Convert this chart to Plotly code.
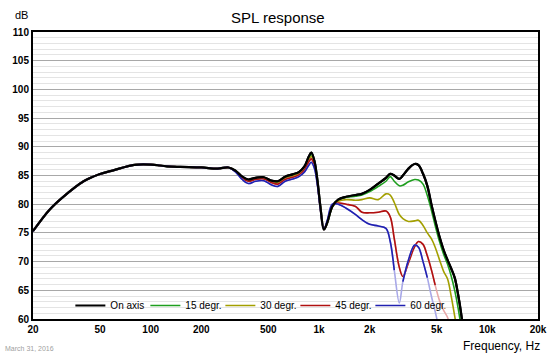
import math
import plotly.graph_objects as go

freq = [20, 25, 30, 40, 50, 60, 80, 100, 125, 150, 200, 250, 290, 320, 350, 380, 420,
        470, 520, 570, 630, 700, 760, 820, 870, 900, 940, 980, 1020, 1070, 1120, 1200,
        1300, 1450, 1650, 1800, 2000, 2250, 2500, 2650, 2800, 3000, 3150, 3400, 3700,
        3900, 4150, 4400, 4650, 4900, 5200, 5500, 5800, 6100, 6400, 6700, 7000, 7300]

low = [75.3, 79.0, 81.2, 84.0, 85.25, 85.9, 86.85, 86.9, 86.6, 86.5, 86.4, 86.2, 86.4]

on_axis = low + [85.8, 84.8, 84.3, 84.6, 84.7, 84.1, 84.0, 84.8, 85.2, 85.6, 86.6, 88.3,
                 89.0, 87.5, 84.0, 79.5, 75.6, 76.8, 79.6, 80.8, 81.3, 81.6, 81.8, 82.5,
                 83.6, 84.6, 85.3, 85.0, 84.4, 85.0, 86.2, 87.0, 86.8, 85.3, 83.2, 80.0,
                 77.2, 74.3, 72.0, 70.3, 68.8, 67.2, 64.3, 60.8, 56.0]
deg15 = low + [85.8, 84.7, 84.2, 84.5, 84.6, 84.0, 83.9, 84.7, 85.1, 85.5, 86.4, 88.0,
               88.7, 87.3, 83.9, 79.4, 75.6, 76.8, 79.6, 80.8, 81.2, 81.4, 81.6, 82.2,
               83.1, 84.0, 84.8, 84.0, 83.2, 83.3, 83.9, 84.3, 84.2, 83.5, 81.5, 79.0,
               76.3, 73.5, 71.3, 69.6, 67.5, 65.0, 62.0, 58.5, 55.0]
deg30 = low + [85.7, 84.6, 84.1, 84.4, 84.5, 83.9, 83.7, 84.5, 84.9, 85.3, 86.2, 87.7,
               88.3, 87.0, 83.7, 79.3, 75.6, 76.8, 79.6, 80.5, 80.8, 80.7, 80.8, 81.1,
               80.8, 81.8, 81.6, 80.3, 78.2, 77.5, 77.0, 77.1, 77.2, 76.3, 75.0, 74.0,
               72.5, 70.3, 68.3, 67.0, 64.0, 60.5, 57.0, 54.0, 52.0]
deg45 = low + [85.7, 84.5, 84.0, 84.3, 84.4, 83.8, 83.5, 84.3, 84.7, 85.1, 86.0, 87.4,
               87.9, 86.7, 83.5, 79.2, 75.6, 77.0, 79.8, 80.2, 80.0, 79.6, 78.6, 78.5,
               78.6, 78.8, 77.8, 74.0, 69.0, 67.4, 69.8, 72.6, 73.5, 73.0, 71.0, 68.6,
               65.9, 63.2, 61.5, 60.3, 58.0, 55.0, 52.0, 50.0, 50.0]
deg60 = low + [85.6, 84.3, 83.6, 84.0, 84.1, 83.4, 83.1, 84.0, 84.4, 84.8, 85.6, 86.8,
               87.3, 86.2, 83.2, 79.1, 75.6, 77.2, 80.0, 80.0, 79.3, 78.2, 77.3, 76.5,
               76.2, 75.8, 73.5, 68.5, 62.8, 66.5, 70.3, 72.9, 72.5, 70.0, 67.2, 64.0,
               61.3, 58.0, 55.0, 52.0, 50.0, 50.0, 50.0, 50.0, 50.0]

names = ["On axis", "15 degr.", "30 degr.", "45 degr.", "60 degr."]
colors = ["#000000", "#1e9e1e", "#a39f00", "#b01010", "#2020b0"]
faint = [None, None, None, "#e8a8a8", "#a8a8e8"]
widths = [2.2, 1.6, 1.6, 1.6, 1.6]
series = [on_axis, deg15, deg30, deg45, deg60]
x_ticks = [20, 50, 100, 200, 500, 1000, 2000, 5000, 10000, 20000]
x_labels = ["20", "50", "100", "200", "500", "1k", "2k", "5k", "10k", "20k"]
y_ticks = list(range(60, 111, 5))
FAINT_LEVEL = 65.5

fig = go.Figure()
for name, col, fc, w, ys in zip(names, colors, faint, widths, series):
    if fc is not None:
        fig.add_trace(go.Scatter(x=freq, y=ys, mode="lines", showlegend=False,
                                 hoverinfo="skip",
                                 line=dict(color=fc, width=w, shape="spline")))
        ys_dark = [v if v >= FAINT_LEVEL else None for v in ys]
    else:
        ys_dark = ys
    fig.add_trace(go.Scatter(x=freq, y=ys_dark, mode="lines", name=name,
                             connectgaps=False,
                             line=dict(color=col, width=w, shape="spline")))

# on-axis curve redrawn on top of the others (not in legend)
fig.add_trace(go.Scatter(x=freq, y=on_axis, mode="lines", showlegend=False,
                         name=names[0], hoverinfo="skip",
                         line=dict(color=colors[0], width=widths[0], shape="spline")))

shapes = []
for k in range(1, 5):
    for n in range(1, 10):
        for frac, major in ((0, True), (0.5, False)):
            f = (n + frac) * 10 ** k
            if f <= 20 or f >= 20000:
                continue
            if n == 3 and k == 2 and frac == 0:
                col, wd = "#d4d4d4", 3
            elif major:
                col, wd = "#a8a8a8", 1
            else:
                col, wd = "#e4e4e4", 1
            shapes.append(dict(type="line", xref="x", yref="paper",
                               x0=math.log10(f), x1=math.log10(f), y0=0, y1=1,
                               line=dict(color=col, width=wd), layer="below"))

fig.update_layout(
    width=559, height=356,
    margin=dict(l=29, r=13, t=32, b=37),
    paper_bgcolor="white", plot_bgcolor="white",
    font=dict(family="Liberation Sans, Arial, sans-serif", color="black"),
    shapes=shapes,
    showlegend=True,
    legend=dict(orientation="h", x=0.074, y=0.047, xanchor="left", yanchor="middle",
                bgcolor="rgba(0,0,0,0)", font=dict(size=10),
                entrywidth=30, entrywidthmode="pixels", itemwidth=30,
                tracegroupgap=0),
    annotations=[
        dict(text="SPL response", x=0.486, y=1, xref="paper", yref="paper",
             yanchor="bottom", yshift=4, showarrow=False, font=dict(size=15)),
        dict(text="dB", x=0, y=1, xref="paper", yref="paper", showarrow=False,
             xanchor="right", yanchor="bottom", xshift=-3, yshift=9,
             font=dict(size=11)),
        dict(text="Frequency, Hz", x=1, y=0, xref="paper", yref="paper",
             showarrow=False, xanchor="right", yanchor="middle", xshift=4,
             yshift=-27, font=dict(size=12)),
        dict(text="March 31, 2016", x=0, y=0, xref="paper", yref="paper",
             showarrow=False, xanchor="left", yanchor="middle", xshift=-30,
             yshift=-29, font=dict(size=7, color="#a0a0a0")),
    ],
    xaxis=dict(type="log", range=[math.log10(20), math.log10(20000)],
               tickmode="array", tickvals=x_ticks, ticktext=x_labels,
               showgrid=False, zeroline=False, ticks="",
               showline=True, linecolor="black", linewidth=2, mirror=True,
               tickfont=dict(size=10, weight="bold")),
    yaxis=dict(range=[60, 110], tickmode="array", tickvals=y_ticks,
               showgrid=True, gridcolor="#a8a8a8", gridwidth=1,
               minor=dict(dtick=1, showgrid=True, gridcolor="#e4e4e4", gridwidth=1),
               zeroline=False, ticks="",
               showline=True, linecolor="black", linewidth=2, mirror=True,
               tickfont=dict(size=10, weight="bold")),
)

fig.write_html("out.html", config={"displayModeBar": False},
               post_script="document.body.style.margin='0';document.body.style.padding='0';")
